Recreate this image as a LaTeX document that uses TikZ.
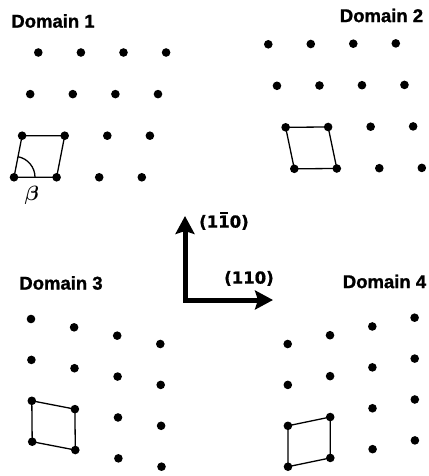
\documentclass[tikz,border=0pt]{standalone}
\usepackage{fontspec}
\usepackage{bm}
\setmainfont{Liberation Sans}
\newfontfamily\heavyfont{Liberation Sans}[BoldFeatures={FakeBold=1.2}]
\newfontfamily\millerfont{DejaVu Sans}[BoldFeatures={FakeBold=1}]
\usetikzlibrary{arrows.meta}
\begin{document}
\begin{tikzpicture}[x=1bp,y=-1bp,
  dot/.style={circle,fill=black,inner sep=0pt,minimum size=8.6bp},
  cell/.style={line width=1.3bp,line join=round},
  domlabel/.style={font=\heavyfont\fontsize{18.5bp}{20bp}\selectfont\bfseries,inner sep=0pt},
  miller/.style={font=\millerfont\fontsize{16.5bp}{18bp}\selectfont\bfseries,inner sep=0pt,anchor=base west},
  axis/.style={line width=5bp,line join=miter,
    {Stealth[length=18bp,width=19bp,inset=3bp]}-{Stealth[length=18bp,width=19bp,inset=3bp]}}
]
\useasboundingbox (0,0) rectangle (428,476);

% Domain 1
\foreach \i in {0,...,3}
  \foreach \j in {0,...,3}
    \node[dot] (a-\i-\j) at ({14+42.6*\i+8.1*\j},{177.3-41.6*\j}) {};
\draw[cell] (a-0-0.center) -- (a-1-0.center) -- (a-1-1.center) -- (a-0-1.center) -- cycle;
\draw[cell] (a-0-0.center) ++(21,0) arc[start angle=0,end angle=79,radius=21bp];
\node[font=\fontsize{19bp}{20bp}\selectfont,inner sep=0pt] (beta) at (31.7,195) {$\bm{\beta}$};

% Domain 2
\foreach \i in {0,...,3}
  \foreach \j in {0,...,3}
    \node[dot] (b-\i-\j) at ({294.3+42.5*\i-8.67*\j},{168.8-41.5*\j-0.3*\i}) {};
\draw[cell] (b-0-0.center) -- (b-1-0.center) -- (b-1-1.center) -- (b-0-1.center) -- cycle;

% Domain 3
\foreach \i in {0,...,3}
  \foreach \j in {0,...,3}
    \node[dot] (c-\i-\j) at ({31+43.1*\i+0.4*\j},{319+8.33*\i+40.9*\j}) {};
\draw[cell] (c-0-2.center) -- (c-1-2.center) -- (c-1-3.center) -- (c-0-3.center) -- cycle;

% Domain 4
\foreach \i in {0,...,3}
  \foreach \j in {0,...,3}
    \node[dot] (d-\i-\j) at ({287.7+42.3*\i+0.1*\j},{344-8.77*\i+40.9*\j}) {};
\draw[cell] (d-0-2.center) -- (d-1-2.center) -- (d-1-3.center) -- (d-0-3.center) -- cycle;

% Labels
\node[domlabel] (l1) at (53,21) {Domain 1};
\node[domlabel] (l2) at (381.5,15.5) {Domain 2};
\node[domlabel] (l3) at (61,283) {Domain 3};
\node[domlabel] (l4) at (384.5,281.5) {Domain 4};

% Axes
\coordinate (corner) at (185,300);
\coordinate (uptip) at (185,216);
\coordinate (righttip) at (273,300);
\draw[axis] (uptip) -- (corner) -- (righttip);
\node[miller] (m1) at (199,227.6) {(1\rlap{\hspace{0.12em}\rule[0.84em]{0.48em}{0.1em}}10)};
\node[miller] (m2) at (224,283.6) {(110)};
\end{tikzpicture}
\end{document}
